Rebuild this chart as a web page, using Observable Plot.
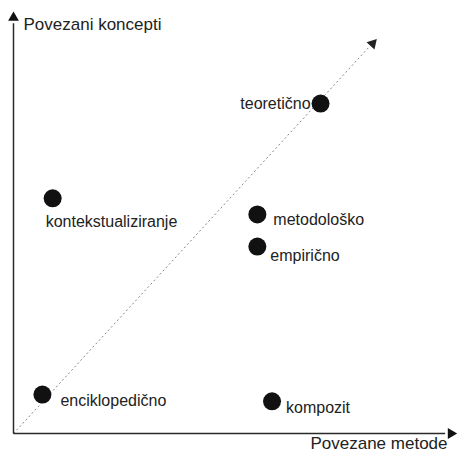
<!DOCTYPE html>
<html>
<head>
<meta charset="utf-8">
<script src="https://cdn.jsdelivr.net/npm/d3@7"></script>
<script src="https://cdn.jsdelivr.net/npm/@observablehq/plot@0.6"></script>
<style>
  html, body { margin: 0; padding: 0; background: #fff; }
  #chart svg { display: block; }
</style>
</head>
<body>
<div id="chart"></div>
<script>
// Concepts and their positions (x: Povezane metode, y: Povezani koncepti)
const concepts = ["teoretično", "kontekstualiziranje", "metodološko", "empirično", "enciklopedično", "kompozit"];
const metodeValues = [69.0, 8.8, 54.8, 54.8, 6.5, 58.1];
const konceptiValues = [78.0, 55.6, 51.8, 44.2, 9.2, 7.6];

// Axis titles
const xTitle = "Povezane metode";
const yTitle = "Povezani koncepti";

// Diagonal guide (data units)
const diagonalFrom = [0, 0];
const diagonalTo = [80.2, 91.7];
const diagonalHead = [80.7, 92.2];

// Axis extents (data units)
const axisEnd = 97;
const axisHead = 98.3;

// label placement (styling, separate from data)
const labelPlacement = [
  {dx: -10, dy: 0, anchor: "end"},
  {dx: -7, dy: 24, anchor: "start"},
  {dx: 16, dy: 5, anchor: "start"},
  {dx: 13, dy: 9, anchor: "start"},
  {dx: 18, dy: 6, anchor: "start"},
  {dx: 14, dy: 7, anchor: "start"}
];

const points = concepts.map((name, i) => ({name, x: metodeValues[i], y: konceptiValues[i], ...labelPlacement[i]}));

const axisColor = "#2a2a2a";
const textColor = "#222";

const labelMarks = points.map(p => Plot.text([p], {
  x: "x", y: "y", text: "name", dx: p.dx, dy: p.dy, textAnchor: p.anchor,
  fontSize: 16, fill: textColor
}));

const chart = Plot.plot({
  width: 458,
  height: 457,
  marginLeft: 13,
  marginRight: 0,
  marginTop: 10,
  marginBottom: 24,
  style: {fontFamily: "'Liberation Sans', Arial, sans-serif", background: "#fff"},
  x: {domain: [0, 100], axis: null},
  y: {domain: [0, 100], axis: null},
  marks: [
    // diagonal dotted guide
    Plot.link([{x1: diagonalFrom[0], y1: diagonalFrom[1], x2: diagonalTo[0], y2: diagonalTo[1]}], {
      x1: "x1", y1: "y1", x2: "x2", y2: "y2", stroke: "#888", strokeWidth: 1, strokeDasharray: "2,2.5"
    }),
    Plot.dot([{x: diagonalHead[0], y: diagonalHead[1]}], {
      x: "x", y: "y", symbol: "triangle", r: 4, fill: "#222", stroke: "none", rotate: 42.7
    }),
    // axes
    Plot.link([{x1: 0, y1: 0, x2: axisEnd, y2: 0}, {x1: 0, y1: 0, x2: 0, y2: axisEnd}], {
      x1: "x1", y1: "y1", x2: "x2", y2: "y2", stroke: axisColor, strokeWidth: 1.5
    }),
    Plot.dot([{x: axisHead, y: 0}], {x: "x", y: "y", symbol: "triangle", r: 4, fill: "#111", stroke: "none", rotate: 90}),
    Plot.dot([{x: 0, y: axisHead}], {x: "x", y: "y", symbol: "triangle", r: 4, fill: "#111", stroke: "none"}),
    // points
    Plot.dot(points, {x: "x", y: "y", r: 9, fill: "#111", stroke: "none"}),
    ...labelMarks,
    // axis titles
    Plot.text([yTitle], {frameAnchor: "top-left", textAnchor: "start", dx: 10, dy: 7, fontSize: 17, fill: textColor}),
    Plot.text([xTitle], {frameAnchor: "bottom-right", textAnchor: "end", dx: -11, dy: 15, fontSize: 17, fill: textColor})
  ]
});

document.getElementById("chart").appendChild(chart);
</script>
</body>
</html>
